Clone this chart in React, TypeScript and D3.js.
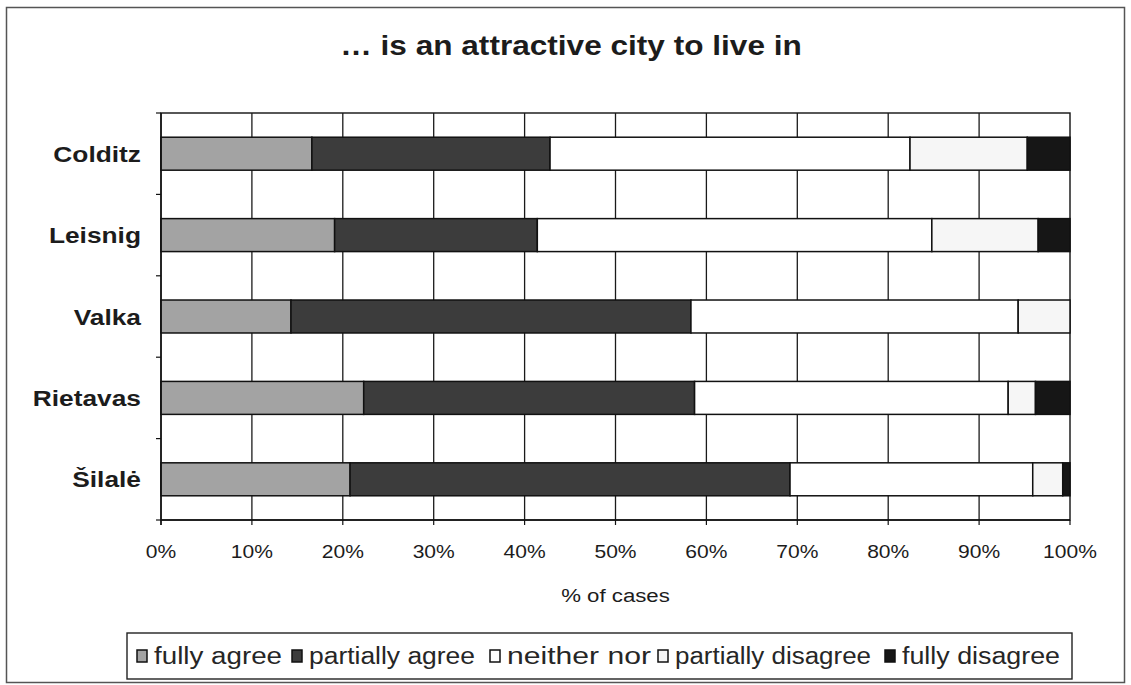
import React from "react";
import * as d3 from "d3";

// Survey answers per town, in percent of cases
const categories = ["Colditz", "Leisnig", "Valka", "Rietavas", "Šilalė"];
const seriesNames = ["fully agree", "partially agree", "neither nor", "partially disagree", "fully disagree"];
const fullyAgree = [16.6, 19.1, 14.3, 22.3, 20.8];
const partiallyAgree = [26.2, 22.3, 44.0, 36.4, 48.4];
const neitherNor = [39.6, 43.4, 36.0, 34.5, 26.7];
const partiallyDisagree = [12.9, 11.7, 5.7, 3.0, 3.3];
const fullyDisagree = [4.7, 3.5, 0, 3.8, 0.8];
const tickValues = [0, 10, 20, 30, 40, 50, 60, 70, 80, 90, 100];

const seriesColors = ["#a3a3a3", "#3c3c3c", "#ffffff", "#f6f6f6", "#161616"];

const W = 1131;
const H = 685;
const plot = { left: 161, right: 1070, top: 113, bottom: 520 };
const FONT = "'Liberation Sans', Arial, Helvetica, sans-serif";
const SX = 1.17; // horizontal stretch of the lettering
const INK = "#1c1c1c";

// legend layout
const legendBox = { x: 127, y: 633, w: 945, h: 46 };
const legendItemX = [137, 292, 490, 658, 885];
const legendTextLen = [128, 166, 144, 196, 158];

type Row = { cat: string; [k: string]: number | string };

const rows: Row[] = categories.map((c, i) => ({
  cat: c,
  "fully agree": fullyAgree[i],
  "partially agree": partiallyAgree[i],
  "neither nor": neitherNor[i],
  "partially disagree": partiallyDisagree[i],
  "fully disagree": fullyDisagree[i],
}));

function SText(props: {
  x: number;
  y: number;
  size: number;
  anchor?: "start" | "middle" | "end";
  bold?: boolean;
  children: React.ReactNode;
}) {
  const { x, y, size, anchor = "start", bold = false, children } = props;
  return (
    <g transform={`translate(${x},${y}) scale(${SX},1)`}>
      <text
        x={0}
        y={0}
        fontFamily={FONT}
        fontSize={size}
        fontWeight={bold ? "bold" : "normal"}
        textAnchor={anchor}
        fill={INK}
      >
        {children}
      </text>
    </g>
  );
}

export default function App() {
  const x = d3.scaleLinear().domain([0, 100]).range([plot.left, plot.right]);
  const y = d3
    .scaleBand<string>()
    .domain(categories)
    .range([plot.top, plot.bottom])
    .paddingInner(0.595)
    .paddingOuter(0.2975);

  const stack = d3.stack<Row>().keys(seriesNames).value((d, k) => d[k] as number);
  const layers = stack(rows);

  const step = y.step();
  const catBounds = d3.range(categories.length + 1).map((i) => plot.top + i * step);

  return (
    <svg
      width={W}
      height={H}
      viewBox={`0 0 ${W} ${H}`}
      style={{ position: "absolute", left: 0, top: 0, background: "#ffffff" }}
    >
      <rect x={0} y={0} width={W} height={H} fill="#ffffff" />
      {/* outer chart frame */}
      <rect x={6.5} y={7.5} width={1118} height={675} fill="none" stroke="#555" strokeWidth={1.5} />

      {/* title */}
      <SText x={571} y={55} size={27} anchor="middle" bold>
        … is an attractive city to live in
      </SText>

      {/* plot area */}
      <rect
        x={plot.left}
        y={plot.top}
        width={plot.right - plot.left}
        height={plot.bottom - plot.top}
        fill="#ffffff"
        stroke="#111"
        strokeWidth={1.4}
      />

      {/* vertical gridlines */}
      {tickValues.slice(1, -1).map((t) => (
        <line
          key={`g${t}`}
          x1={x(t)}
          x2={x(t)}
          y1={plot.top}
          y2={plot.bottom}
          stroke="#1a1a1a"
          strokeWidth={1.3}
        />
      ))}

      {/* stacked bars */}
      {layers.map((layer, li) => (
        <g key={layer.key}>
          {layer.map((d, i) => {
            const w = x(d[1]) - x(d[0]);
            if (w <= 0) return null;
            return (
              <rect
                key={`${layer.key}-${i}`}
                x={x(d[0])}
                y={y(rows[i].cat) as number}
                width={w}
                height={y.bandwidth()}
                fill={seriesColors[li]}
                stroke="#111"
                strokeWidth={1.5}
              />
            );
          })}
        </g>
      ))}

      {/* axes */}
      <line x1={plot.left} x2={plot.left} y1={plot.top} y2={plot.bottom + 5} stroke="#111" strokeWidth={1.4} />
      <line x1={plot.left} x2={plot.right} y1={plot.bottom} y2={plot.bottom} stroke="#111" strokeWidth={1.4} />
      {catBounds.map((b, i) => (
        <line key={`ct${i}`} x1={plot.left - 5} x2={plot.left} y1={b} y2={b} stroke="#111" strokeWidth={1.2} />
      ))}
      {tickValues.map((t) => (
        <line
          key={`xt${t}`}
          x1={x(t)}
          x2={x(t)}
          y1={plot.bottom}
          y2={plot.bottom + 5}
          stroke="#111"
          strokeWidth={1.2}
        />
      ))}

      {/* category labels */}
      {categories.map((c) => (
        <SText key={c} x={plot.left - 20} y={(y(c) as number) + y.bandwidth() / 2 + 8} size={22.5} anchor="end" bold>
          {c}
        </SText>
      ))}

      {/* tick labels */}
      {tickValues.map((t) => (
        <SText key={`tl${t}`} x={x(t)} y={558} size={18} anchor="middle">
          {`${t}%`}
        </SText>
      ))}

      {/* axis title */}
      <SText x={(plot.left + plot.right) / 2} y={602} size={19} anchor="middle">
        % of cases
      </SText>

      {/* legend */}
      <rect
        x={legendBox.x}
        y={legendBox.y}
        width={legendBox.w}
        height={legendBox.h}
        fill="#ffffff"
        stroke="#222"
        strokeWidth={1.4}
      />
      {seriesNames.map((name, i) => (
        <g key={name}>
          <rect
            x={legendItemX[i]}
            y={650}
            width={10}
            height={12}
            fill={seriesColors[i]}
            stroke="#111"
            strokeWidth={1.5}
          />
          <text
            x={legendItemX[i] + 17}
            y={664}
            fontFamily={FONT}
            fontSize={23}
            fill="#262626"
            textLength={legendTextLen[i]}
            lengthAdjust="spacingAndGlyphs"
          >
            {name}
          </text>
        </g>
      ))}
    </svg>
  );
}
